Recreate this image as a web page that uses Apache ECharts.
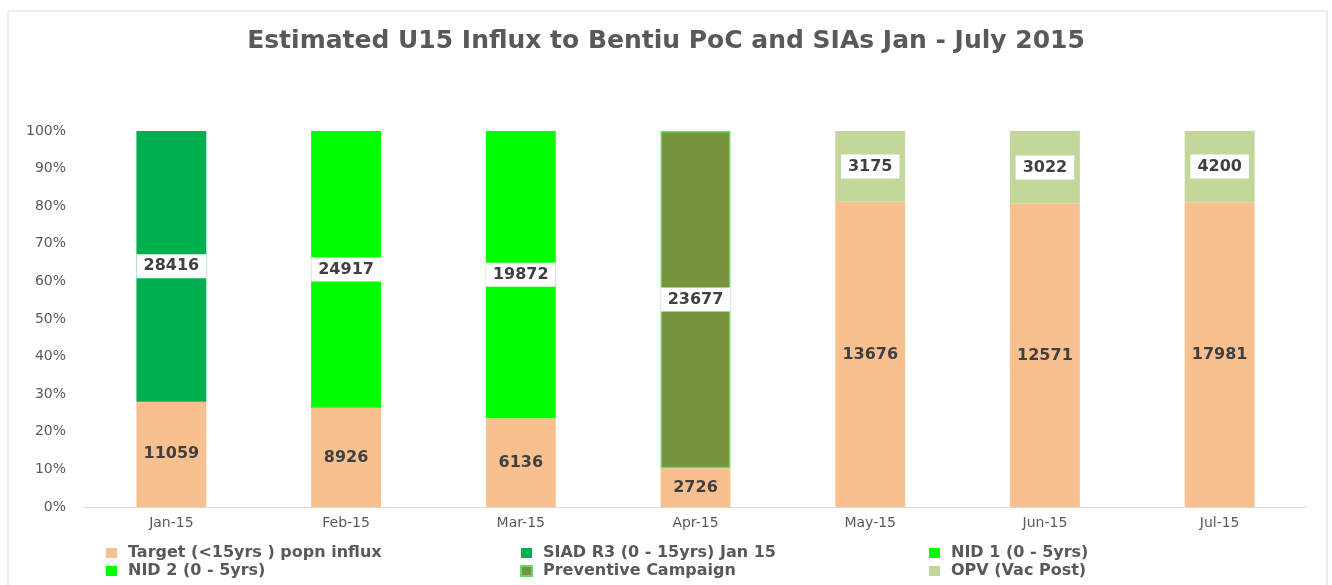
<!DOCTYPE html>
<html>
<head>
<meta charset="utf-8">
<script src="https://cdn.jsdelivr.net/npm/echarts@6/dist/echarts.min.js"></script>
<style>
  html, body { margin: 0; padding: 0; background: #fff; }
  #main { width: 1332px; height: 585px; }
</style>
</head>
<body>
<div id="main"></div>
<script>
var categories = ['Jan-15', 'Feb-15', 'Mar-15', 'Apr-15', 'May-15', 'Jun-15', 'Jul-15'];
var target     = [11059, 8926, 6136, 2726, 13676, 12571, 17981];
var siad       = [28416, null, null, null, null, null, null];
var nid1       = [null, 24917, null, null, null, null, null];
var nid2       = [null, null, 19872, null, null, null, null];
var preventive = [null, null, null, 23677, null, null, null];
var opv        = [null, null, null, null, 3175, 3022, 4200];
var yTicks     = [0, 10, 20, 30, 40, 50, 60, 70, 80, 90, 100];

var names = [
    'Target (<15yrs ) popn influx',
    'SIAD R3 (0 - 15yrs) Jan 15',
    'NID 1 (0 - 5yrs)',
    'NID 2 (0 - 5yrs)',
    'Preventive Campaign',
    'OPV (Vac Post)'
];
var all = [target, siad, nid1, nid2, preventive, opv];

// totals per month, used for the 100% stacking
var totals = categories.map(function (c, i) {
    var s = 0;
    all.forEach(function (arr) { if (arr[i] != null) s += arr[i]; });
    return s;
});

function share(arr) {
    return arr.map(function (v, i) {
        return v == null ? null : { value: v / totals[i] * 100, raw: v };
    });
}

var labelFont = 'DejaVu Sans';

function makeSeries(name, arr, color, boxed, border) {
    return {
        name: name,
        type: 'bar',
        stack: 'all',
        barWidth: '40%',
        data: share(arr),
        itemStyle: {
            color: color,
            borderColor: border || color,
            borderWidth: border ? 1.5 : 0
        },
        label: {
            show: true,
            position: 'inside',
            fontFamily: labelFont,
            fontWeight: 'bold',
            fontSize: 16,
            color: '#404040',
            backgroundColor: boxed ? '#ffffff' : 'transparent',
            padding: boxed ? [4, 7] : 0,
            formatter: function (p) { return p.data.raw; }
        }
    };
}

var legendText = {
    fontFamily: labelFont,
    fontWeight: 'bold',
    fontSize: 16,
    color: '#595959',
    lineHeight: 16,
    padding: [0, 0, 0, 6]
};

function legendCol(left, data) {
    return {
        orient: 'vertical',
        left: left,
        top: 545,
        padding: 0,
        itemWidth: 11,
        itemHeight: 10,
        itemGap: 2,
        icon: 'rect',
        selectedMode: false,
        textStyle: legendText,
        data: data
    };
}

var chart = echarts.init(document.getElementById('main'));
chart.setOption({
    backgroundColor: '#fff',
    animation: false,
    title: {
        text: 'Estimated U15 Influx to Bentiu PoC and SIAs Jan - July 2015',
        left: 'center',
        top: 24,
        textStyle: {
            fontFamily: labelFont,
            fontWeight: 'bold',
            fontSize: 25,
            color: '#595959'
        }
    },
    graphic: [{
        type: 'rect',
        shape: { x: 8, y: 11, width: 1319, height: 600 },
        style: { fill: 'none', stroke: '#D9D9D9', lineWidth: 1 },
        silent: true
    }],
    legend: [
        legendCol(106, [names[0], names[3]]),
        legendCol(520, [names[1], names[4]]),
        legendCol(929, [names[2], names[5]])
    ],
    grid: {
        left: 84,
        right: 25,
        top: 131,
        bottom: 78
    },
    xAxis: {
        type: 'category',
        data: categories,
        axisLine: { lineStyle: { color: '#D9D9D9', width: 1 } },
        axisTick: { show: false },
        axisLabel: {
            fontFamily: labelFont,
            fontSize: 14,
            color: '#595959',
            margin: 9
        }
    },
    yAxis: {
        type: 'value',
        min: yTicks[0],
        max: yTicks[yTicks.length - 1],
        interval: 10,
        splitLine: { show: false },
        axisLine: { show: false },
        axisTick: { show: false },
        axisLabel: {
            fontFamily: labelFont,
            fontSize: 14,
            color: '#595959',
            margin: 18,
            formatter: '{value}%'
        }
    },
    series: [
        makeSeries(names[0], target, '#F9C08F', false, null),
        makeSeries(names[1], siad, '#00B050', true, null),
        makeSeries(names[2], nid1, '#00FF00', true, null),
        makeSeries(names[3], nid2, '#00FF00', true, null),
        makeSeries(names[4], preventive, '#77933C', true, '#6FD36F'),
        makeSeries(names[5], opv, '#C4D79B', true, null)
    ]
});
</script>
</body>
</html>
